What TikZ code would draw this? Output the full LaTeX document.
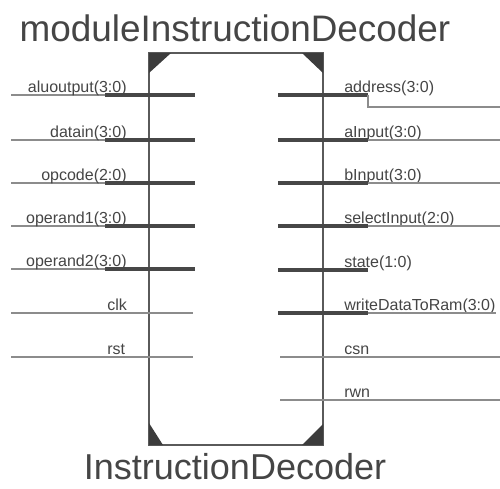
\documentclass[tikz,border=0pt]{standalone}
\usepackage{fontspec}
\setmainfont{Liberation Sans}
\usetikzlibrary{positioning,calc}
\definecolor{txtgray}{HTML}{454545}
\definecolor{wiregray}{HTML}{8C8C8C}
\definecolor{busgray}{HTML}{474747}
\definecolor{boxgray}{HTML}{5A5A5A}

\begin{document}
\begin{tikzpicture}[x=0.02cm,y=-0.02cm,
    pinlabel/.style={font=\fontsize{9.1}{11}\selectfont, text=txtgray, inner sep=0pt},
    thinwire/.style={draw=wiregray, line width=0.6pt},
    busbar/.style={draw=busgray, line width=2.3pt},
    boxline/.style={draw=boxgray, line width=0.7pt},
    cornermark/.style={fill=busgray!85!black, draw=none}]
    \useasboundingbox (0,0) rectangle (500,488);

    % Title
    \node[font=\fontsize{21}{25}\selectfont, text=txtgray, inner sep=0pt, anchor=base] (title) at (235,41) {moduleInstructionDecoder};

    % Block body
    \coordinate (tl) at (149,53);
    \coordinate (br) at (323,445);
    \draw[boxline] (tl) rectangle (br);
    \fill[cornermark] (149,53) -- (171,53) -- (149,73) -- cycle;
    \fill[cornermark] (302,53) -- (323,53) -- (323,73) -- cycle;
    \fill[cornermark] (149,423) -- (163,445) -- (149,445) -- cycle;
    \fill[cornermark] (323,424) -- (323,445) -- (302,445) -- cycle;

    % Left bus inputs
    \foreach \y/\nm/\lab in {95/alu/aluoutput(3:0), 140/din/datain(3:0),
        183/opc/opcode(2:0), 226/opa/operand1(3:0), 269/opb/operand2(3:0)} {
        \coordinate (\nm-end) at (11,\y);
        \coordinate (\nm-tap) at (105,\y);
        \coordinate (\nm-pin) at (195,\y);
        \draw[thinwire] (\nm-end) -- (\nm-tap);
        \draw[busbar] (\nm-tap) -- (\nm-pin);
        \node[pinlabel, anchor=base east] (\nm-lbl) at (127,\y-3) {\lab};
    }

    % Left single inputs
    \foreach \y/\nm/\lab in {313/clk/clk, 357/rst/rst} {
        \coordinate (\nm-end) at (11,\y);
        \coordinate (\nm-pin) at (193,\y);
        \draw[thinwire] (\nm-end) -- (\nm-pin);
        \node[pinlabel, anchor=base west] (\nm-lbl) at (107,\y-3) {\lab};
    }

    % Right bus outputs
    \foreach \y/\nm/\lab in {95/adr/address(3:0), 140/ain/aInput(3:0),
        183/bin/bInput(3:0), 226/sel/selectInput(2:0), 270/sta/state(1:0),
        313/wdr/writeDataToRam(3:0)} {
        \coordinate (\nm-pin) at (278,\y);
        \coordinate (\nm-tap) at (368,\y);
        \draw[busbar] (\nm-pin) -- (\nm-tap);
        \node[pinlabel, anchor=base west] (\nm-lbl) at (344,\y-3) {\lab};
    }
    \coordinate (adr-end) at (500,107);
    \draw[thinwire] (adr-tap) |- (adr-end);
    \foreach \nm in {ain, bin, sel} {
        \draw[thinwire] (\nm-tap) -- ++(132,0) coordinate (\nm-end);
    }
    \draw[thinwire] (wdr-tap) -- ++(128,0) coordinate (wdr-end);

    % Right single outputs
    \foreach \y/\nm/\lab in {357/csn/csn, 400/rwn/rwn} {
        \coordinate (\nm-pin) at (280,\y);
        \coordinate (\nm-end) at (500,\y);
        \draw[thinwire] (\nm-pin) -- (\nm-end);
        \node[pinlabel, anchor=base west] (\nm-lbl) at (344,\y-3) {\lab};
    }

    % Block name
    \node[font=\fontsize{20.5}{24}\selectfont, text=txtgray, inner sep=0pt, anchor=base] (blockname) at (235,479) {InstructionDecoder};
\end{tikzpicture}
\end{document}
